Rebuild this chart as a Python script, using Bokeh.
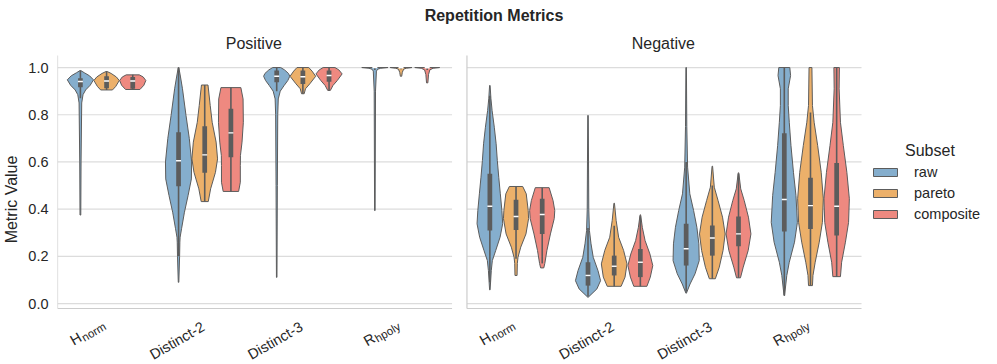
import math
from bokeh.plotting import figure
from bokeh.models import (Range1d, FixedTicker, Label, Legend, LegendItem,
                          ColumnDataSource, Div, PrintfTickFormatter)
from bokeh.layouts import column
from bokeh.embed import file_html
from bokeh.resources import INLINE

# ---------------- data ----------------
metric_main = ["H", "Distinct-2", "Distinct-3", "R"]
metric_sub = ["norm", "", "", "hpoly"]
panels = ["Positive", "Negative"]
subsets = ["raw", "pareto", "composite"]
colors = ["#85AECD", "#ECB06A", "#EE8980"]
y_ticks = [0.0, 0.2, 0.4, 0.6, 0.8, 1.0]

# violin outlines: (metric value, relative half-width) from bottom to top
pos_raw = [
    [(0.375, 0.03), (0.60, 0.05), (0.85, 0.10), (0.885, 0.20), (0.905, 0.40), (0.925, 0.75), (0.948, 1.00), (0.965, 0.70), (0.978, 0.30), (0.987, 0.03)],
    [(0.09, 0.02), (0.20, 0.08), (0.26, 0.10), (0.281, 0.12), (0.317, 0.23), (0.387, 0.45), (0.458, 0.73), (0.528, 0.98), (0.60, 1.00), (0.70, 0.82), (0.797, 0.57), (0.91, 0.30), (0.96, 0.15), (1.0, 0.02)],
    [(0.111, 0.02), (0.50, 0.05), (0.80, 0.08), (0.867, 0.12), (0.90, 0.27), (0.924, 0.57), (0.945, 0.85), (0.963, 1.00), (0.975, 0.90), (0.99, 0.60), (1.0, 0.30)],
    [(0.394, 0.02), (0.90, 0.05), (0.985, 0.12), (0.993, 0.22), (0.997, 0.45), (1.0, 1.0)],
]
pos_pareto = [
    [(0.905, 0.45), (0.92, 0.70), (0.945, 0.97), (0.96, 0.75), (0.975, 0.35), (0.983, 0.05)],
    [(0.432, 0.27), (0.486, 0.45), (0.556, 0.82), (0.613, 0.98), (0.684, 0.87), (0.768, 0.57), (0.839, 0.42), (0.926, 0.25)],
    [(0.889, 0.10), (0.91, 0.20), (0.931, 0.53), (0.963, 0.98), (0.985, 0.70), (1.0, 0.45)],
    [(0.963, 0.05), (0.98, 0.10), (0.993, 0.20), (0.997, 0.40), (1.0, 0.83)],
]
pos_comp = [
    [(0.907, 0.55), (0.925, 0.85), (0.945, 1.00), (0.96, 0.80), (0.969, 0.50)],
    [(0.475, 0.59), (0.514, 0.72), (0.585, 0.72), (0.627, 0.73), (0.684, 0.85), (0.768, 0.95), (0.867, 0.93), (0.915, 0.76)],
    [(0.903, 0.10), (0.924, 0.30), (0.945, 0.63), (0.973, 1.00), (0.99, 0.75), (1.0, 0.45)],
    [(0.935, 0.05), (0.97, 0.10), (0.99, 0.20), (0.997, 0.45), (1.0, 0.95)],
]
neg_raw = [
    [(0.058, 0.02), (0.14, 0.11), (0.182, 0.19), (0.225, 0.45), (0.281, 0.78), (0.338, 0.98), (0.394, 0.92), (0.465, 0.80), (0.535, 0.68), (0.606, 0.57), (0.677, 0.48), (0.747, 0.34), (0.818, 0.17), (0.87, 0.08), (0.924, 0.02)],
    [(0.027, 0.02), (0.062, 0.68), (0.097, 0.96), (0.14, 0.76), (0.196, 0.40), (0.253, 0.23), (0.309, 0.11), (0.40, 0.06), (0.60, 0.04), (0.797, 0.02)],
    [(0.044, 0.02), (0.083, 0.30), (0.126, 0.68), (0.182, 1.00), (0.253, 0.97), (0.323, 0.82), (0.394, 0.57), (0.465, 0.28), (0.578, 0.11), (0.75, 0.05), (1.0, 0.02)],
    [(0.034, 0.02), (0.119, 0.19), (0.175, 0.38), (0.26, 0.78), (0.344, 1.00), (0.458, 0.89), (0.556, 0.70), (0.669, 0.51), (0.768, 0.38), (0.839, 0.30), (0.91, 0.30), (0.966, 0.48), (1.0, 0.42)],
]
neg_pareto = [
    [(0.119, 0.08), (0.17, 0.10), (0.196, 0.15), (0.239, 0.36), (0.295, 0.76), (0.36, 0.96), (0.394, 0.93), (0.465, 0.78), (0.496, 0.51)],
    [(0.073, 0.53), (0.112, 0.83), (0.168, 0.98), (0.225, 0.72), (0.281, 0.34), (0.352, 0.15), (0.425, 0.02)],
    [(0.105, 0.23), (0.154, 0.53), (0.225, 0.82), (0.295, 0.98), (0.366, 0.78), (0.436, 0.44), (0.493, 0.15), (0.582, 0.02)],
    [(0.076, 0.15), (0.119, 0.19), (0.175, 0.36), (0.26, 0.67), (0.344, 0.91), (0.444, 0.98), (0.556, 0.82), (0.669, 0.55), (0.768, 0.28), (0.839, 0.15), (1.0, 0.11)],
]
neg_comp = [
    [(0.151, 0.12), (0.17, 0.20), (0.225, 0.36), (0.295, 0.63), (0.36, 0.92), (0.394, 0.96), (0.436, 0.83), (0.491, 0.53)],
    [(0.073, 0.50), (0.112, 0.76), (0.161, 0.95), (0.21, 0.73), (0.267, 0.36), (0.323, 0.15), (0.376, 0.02)],
    [(0.109, 0.15), (0.154, 0.36), (0.225, 0.74), (0.295, 0.95), (0.366, 0.76), (0.436, 0.44), (0.486, 0.17), (0.554, 0.02)],
    [(0.114, 0.29), (0.175, 0.38), (0.26, 0.67), (0.344, 0.91), (0.444, 0.97), (0.556, 0.78), (0.669, 0.51), (0.768, 0.29), (0.91, 0.19), (1.0, 0.21)],
]

# inner box statistics, [subset][metric]
pos_q1 = [[0.917, 0.497, 0.938, 0.998], [0.912, 0.554, 0.930, 0.998], [0.910, 0.620, 0.940, 0.998]]
pos_med = [[0.941, 0.605, 0.963, 1.0], [0.943, 0.630, 0.961, 0.999], [0.943, 0.723, 0.966, 0.999]]
pos_q3 = [[0.955, 0.726, 0.987, 1.0], [0.963, 0.751, 0.987, 1.0], [0.960, 0.825, 0.987, 1.0]]
pos_wlo = [[0.870, 0.200, 0.900, 0.990], [0.905, 0.432, 0.889, 0.993], [0.907, 0.475, 0.903, 0.990]]
pos_whi = [[0.987, 1.0, 1.0, 1.0], [0.983, 0.926, 1.0, 1.0], [0.969, 0.915, 1.0, 1.0]]

neg_q1 = [[0.309, 0.076, 0.161, 0.305], [0.312, 0.119, 0.203, 0.316], [0.295, 0.112, 0.243, 0.288]]
neg_med = [[0.412, 0.119, 0.232, 0.441], [0.369, 0.158, 0.278, 0.415], [0.377, 0.175, 0.295, 0.412]]
neg_q3 = [[0.550, 0.175, 0.338, 0.722], [0.440, 0.203, 0.331, 0.533], [0.444, 0.231, 0.369, 0.595]]
neg_wlo = [[0.090, 0.030, 0.050, 0.034], [0.190, 0.073, 0.105, 0.076], [0.170, 0.073, 0.109, 0.114]]
neg_whi = [[0.880, 0.320, 0.600, 1.0], [0.496, 0.330, 0.500, 0.810], [0.491, 0.370, 0.550, 1.0]]

# ---------------- layout / style constants ----------------
FONT = "Liberation Sans"
TXT = "#262626"
EDGE = "#5c5c5c"
SPINE = "#cccccc"
GRID = "#dcdcdc"
SLOT = 0.8 / 3
OFFS = [-SLOT, 0.0, SLOT]
PX_X = 99.0          # pixels per category
PX_Y = 236.0         # pixels per unit of metric value
PANEL_SHIFT = 413.0 / PX_X
Y_LO, Y_HI = -0.021, 1.051
FIG_W, FIG_H, LEFT_B, BOTTOM_PAD = 981, 334, 49, 58
X0 = -0.5
X1 = X0 + (FIG_W - LEFT_B) / PX_X
YR0 = Y_LO - BOTTOM_PAD / PX_Y
YR1 = YR0 + FIG_H / PX_Y
SUB_EM = {"norm": 2.28, "hpoly": 2.39}

p = figure(width=FIG_W, height=FIG_H, x_range=Range1d(X0, X1), y_range=Range1d(YR0, YR1),
           output_backend="svg", toolbar_location=None, x_axis_location=None,
           min_border_left=LEFT_B, min_border_right=0, min_border_top=0, min_border_bottom=0)
p.outline_line_color = None
p.xgrid.visible = False
p.ygrid.visible = False
ax = p.yaxis[0]
ax.ticker = FixedTicker(ticks=y_ticks)
ax.formatter = PrintfTickFormatter(format="%.1f")
ax.axis_line_color = None
ax.major_tick_line_color = None
ax.minor_tick_line_color = None
ax.major_tick_out = 0
ax.major_tick_in = 0
ax.minor_tick_out = 0
ax.minor_tick_in = 0
ax.major_label_text_font = FONT
ax.major_label_text_font_size = "14.5px"
ax.major_label_text_color = TXT
ax.major_label_standoff = 9
ax.axis_label = "Metric Value"
ax.axis_label_text_font = FONT
ax.axis_label_text_font_size = "16px"
ax.axis_label_text_font_style = "normal"
ax.axis_label_text_color = TXT
ax.axis_label_standoff = 5

all_profiles = [[pos_raw, pos_pareto, pos_comp], [neg_raw, neg_pareto, neg_comp]]
all_stats = [(pos_q1, pos_med, pos_q3, pos_wlo, pos_whi), (neg_q1, neg_med, neg_q3, neg_wlo, neg_whi)]

legend_renderers = []
th = math.radians(30)
MAIN_FS, SUB_FS = 14.5, 11.5
for k in range(2):
    sh = k * PANEL_SHIFT
    # grid and spines
    p.segment(x0=[X0 + sh] * len(y_ticks), y0=y_ticks, x1=[3.52 + sh] * len(y_ticks), y1=y_ticks,
              line_color=GRID, line_width=1.2)
    p.segment(x0=[X0 + sh, X0 + sh], y0=[Y_LO, Y_LO], x1=[X0 + sh, 3.52 + sh], y1=[Y_HI, Y_LO],
              line_color=SPINE, line_width=1.2)
    # violins
    for j in range(3):
        xs, ys = [], []
        for i in range(4):
            c = i + OFFS[j] + sh
            prof = all_profiles[k][j][i]
            vals = [v for v, w in prof]
            wids = [w * SLOT / 2 for v, w in prof]
            xs.append([c + w for w in wids] + [c - w for w in reversed(wids)])
            ys.append(vals + list(reversed(vals)))
        r = p.patches("xs", "ys", source=ColumnDataSource(dict(xs=xs, ys=ys)),
                      fill_color=colors[j], line_color=EDGE, line_width=1)
        if k == 1:
            legend_renderers.append(r)
    q1, med, q3, wlo, whi = all_stats[k]
    for j in range(3):
        cx = [i + OFFS[j] + sh for i in range(4)]
        p.segment(x0=cx, y0=wlo[j], x1=cx, y1=whi[j], line_color=EDGE, line_width=1.6)
        p.vbar(x=cx, bottom=q1[j], top=q3[j], width=0.048, fill_color=EDGE, line_color=None)
        p.scatter(x=cx, y=med[j], marker="dash", size=5, line_color="white", line_width=1.4)
    # panel title
    p.add_layout(Label(x=1.5 + sh, y=Y_HI, text=panels[k], y_offset=12.5,
                       text_align="center", text_baseline="middle",
                       text_font=FONT, text_font_size="16px", text_color=TXT))
    # category labels (with subscripts)
    base_down = 17.0
    for i in range(4):
        main, sub = metric_main[i], metric_sub[i]
        if sub:
            sub_w = SUB_EM[sub] * SUB_FS + 0.5
            d = 3.0
            p.add_layout(Label(x=i + sh, y=Y_LO, text=sub, angle=th,
                               text_align="right", text_baseline="alphabetic",
                               x_offset=-1.5, y_offset=-base_down,
                               text_font=FONT, text_font_size=f"{SUB_FS}px", text_color=TXT))
            dx = -sub_w * math.cos(th) - d * math.sin(th)
            dy = sub_w * math.sin(th) - d * math.cos(th)
            p.add_layout(Label(x=i + sh, y=Y_LO, text=main, angle=th,
                               text_align="right", text_baseline="alphabetic",
                               x_offset=-1.5 + dx, y_offset=-(base_down + dy),
                               text_font=FONT, text_font_size=f"{MAIN_FS}px", text_color=TXT))
        else:
            p.add_layout(Label(x=i + sh, y=Y_LO, text=main, angle=th,
                               text_align="right", text_baseline="alphabetic",
                               x_offset=-1.5, y_offset=-base_down,
                               text_font=FONT, text_font_size=f"{MAIN_FS}px", text_color=TXT))

# legend (title drawn as a centred label above it)
LEG_LEFT_PX, LEG_BOTTOM_PX = 813, 143
legend = Legend(items=[LegendItem(label=s, renderers=[r]) for s, r in zip(subsets, legend_renderers)],
                location=(LEG_LEFT_PX, LEG_BOTTOM_PX), margin=0, padding=5,
                border_line_color=None, background_fill_alpha=0,
                glyph_width=30, glyph_height=10, label_standoff=14,
                label_height=18, spacing=3,
                label_text_font=FONT, label_text_font_size="14.5px", label_text_color=TXT)
p.add_layout(legend)
p.add_layout(Label(x=X0 + (937 - 57) / PX_X, y=(303 - 150) / PX_Y, text="Subset",
                   text_align="center", text_baseline="middle",
                   text_font=FONT, text_font_size="16px", text_color=TXT))

title = Div(text="Repetition Metrics", width=978, height=22,
            styles={"font-family": FONT, "font-size": "16px", "font-weight": "bold",
                    "text-align": "center", "color": TXT, "width": "978px"})

layout = column(title, p)
open("out.html", "w").write(file_html(layout, INLINE))
